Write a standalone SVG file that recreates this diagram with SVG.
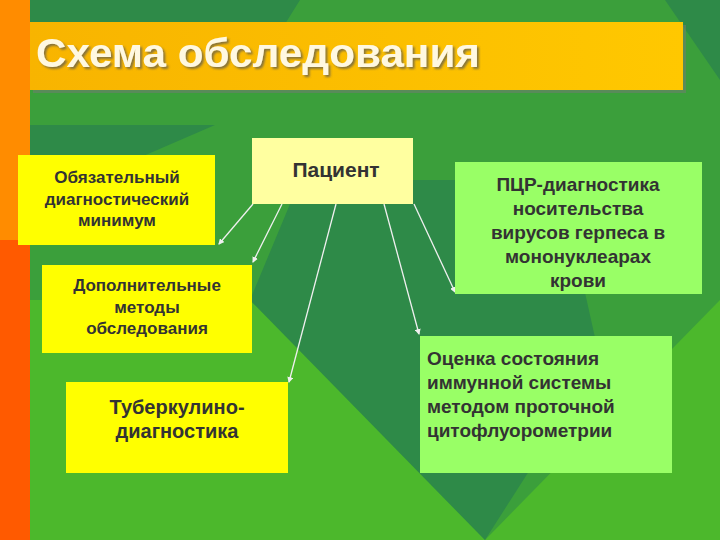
<svg xmlns="http://www.w3.org/2000/svg" width="720" height="540" viewBox="0 0 720 540">
<defs>
<style>
.t{font-family:"Liberation Sans",Arial,sans-serif;font-weight:bold;fill:#333;}
.c{text-anchor:middle;font-size:17px;}
.g{font-size:19px;}
.a{stroke:#f0f0f0;stroke-width:1.3;fill:none;marker-end:url(#ah);}
</style>
<marker id="ah" markerWidth="6" markerHeight="6" refX="5" refY="3" orient="auto" markerUnits="userSpaceOnUse"><path d="M0,0L6,3L0,6z" fill="#f0f0f0"/></marker>
<linearGradient id="tb" x1="0" y1="0" x2="1" y2="0"><stop offset="0" stop-color="#f8b400"/><stop offset="1" stop-color="#ffc800"/></linearGradient>
<filter id="sh" x="-5%" y="-20%" width="110%" height="140%"><feDropShadow dx="2" dy="2" stdDeviation="0.8" flood-color="#555" flood-opacity="0.7"/></filter>
</defs>
<rect width="720" height="540" fill="#3b9f3b"/>
<polygon points="30,540 30,300 250,300 485,540" fill="#4cb82c"/>
<polygon points="485,540 720,300 720,540" fill="#4cb82c"/>
<polygon points="30,0 300,0 285,24 30,24" fill="#2e8a48"/>
<polygon points="665,0 720,0 720,80" fill="#2e8a48"/>
<polygon points="30,125 215,125 30,205" fill="#2e8a48"/>
<polygon points="250,300 300,180 560,180 600,360 485,540" fill="#2e8a48"/>
<rect x="0" y="0" width="30" height="240" fill="#ff8c00"/>
<rect x="0" y="240" width="30" height="300" fill="#ff5a00"/>
<g id="title">
<rect x="33" y="25" width="653" height="68" fill="#777" opacity="0.5"/>
<rect x="30" y="22" width="653" height="68" fill="url(#tb)"/>
<text x="36" y="67" font-family="Liberation Sans,Arial,sans-serif" font-weight="bold" font-size="40" fill="#fff8e0" filter="url(#sh)" textLength="444" lengthAdjust="spacingAndGlyphs">Схема обследования</text>
</g>
<g id="connectors">
<line class="a" x1="253" y1="204" x2="219" y2="244"/>
<line class="a" x1="282" y1="204" x2="253" y2="262"/>
<line class="a" x1="336" y1="204" x2="289" y2="382"/>
<line class="a" x1="384" y1="204" x2="419" y2="334"/>
<line class="a" x1="414" y1="204" x2="455" y2="292"/>
</g>
<g id="patient"><rect x="252" y="138" width="161" height="66" fill="#ffffa0"/><text class="t" x="336" y="177" text-anchor="middle" font-size="21">Пациент</text></g>
<g id="min"><rect x="18" y="155" width="197" height="90" fill="#ffff00"/><text class="t c" font-size="16"><tspan x="117" y="183">Обязательный</tspan><tspan x="117" y="205">диагностический</tspan><tspan x="117" y="226">минимум</tspan></text></g>
<g id="extra"><rect x="42" y="265" width="210" height="88" fill="#ffff00"/><text class="t c"><tspan x="147" y="291">Дополнительные</tspan><tspan x="147" y="313">методы</tspan><tspan x="147" y="334">обследования</tspan></text></g>
<g id="tb"><rect x="66" y="382" width="222" height="91" fill="#ffff00"/><text class="t c" style="font-size:20px"><tspan x="177" y="414">Туберкулино-</tspan><tspan x="177" y="438">диагностика</tspan></text></g>
<g id="pcr"><rect x="455" y="162" width="247" height="132" fill="#99ff66"/><text class="t g" text-anchor="middle"><tspan x="578" y="191">ПЦР-диагностика</tspan><tspan x="578" y="215">носительства</tspan><tspan x="578" y="239">вирусов герпеса в</tspan><tspan x="578" y="263">мононуклеарах</tspan><tspan x="578" y="287">крови</tspan></text></g>
<g id="immune"><rect x="420" y="336" width="252" height="137" fill="#99ff66"/><text class="t g"><tspan x="427" y="365">Оценка состояния</tspan><tspan x="427" y="389">иммунной системы</tspan><tspan x="427" y="413">методом проточной</tspan><tspan x="427" y="437">цитофлуорометрии</tspan></text></g>
</svg>
